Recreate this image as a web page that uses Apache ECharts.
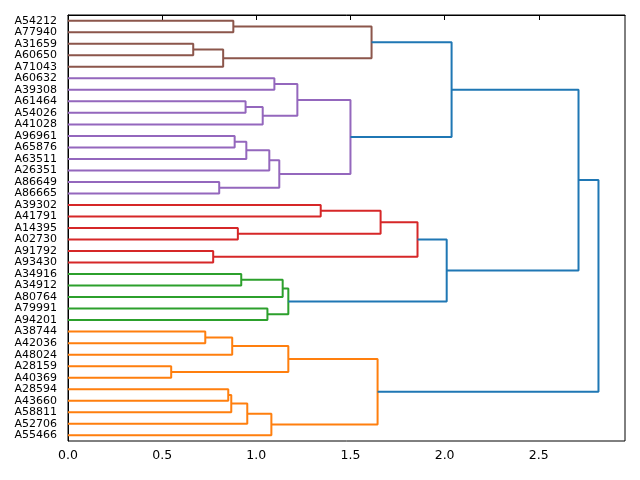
<!DOCTYPE html>
<html>
<head>
<meta charset="utf-8">
<script src="https://cdn.jsdelivr.net/npm/echarts@6/dist/echarts.min.js"></script>
<style>
    html, body { margin: 0; padding: 0; background: #fff; }
    #container-dendro { width: 640px; height: 480px; }
</style>
</head>
<body>
<div id="container-dendro"></div>
<script>
// leaf labels, top to bottom
var leaf_labels = [
    'A54212', 'A77940', 'A31659', 'A60650', 'A71043', 'A60632', 'A39308',
    'A61464', 'A54026', 'A41028', 'A96961', 'A65876', 'A63511', 'A26351',
    'A86649', 'A86665', 'A39302', 'A41791', 'A14395', 'A02730', 'A91792',
    'A93430', 'A34916', 'A34912', 'A80764', 'A79991', 'A94201', 'A38744',
    'A42036', 'A48024', 'A28159', 'A40369', 'A28594', 'A43660', 'A58811',
    'A52706', 'A55466'
]

// linkage: child ids below 37 are leaves, 37 + k is merge k
var merge_left = [
    0, 2, 38, 37, 5, 7, 42, 41, 10, 45, 46, 14, 47, 44, 40,
    16, 18, 52, 20, 54, 22, 57, 25, 58, 56, 51,
    27, 63, 30, 64, 32, 67, 68, 69, 66, 62
]
var merge_right = [
    1, 3, 4, 39, 6, 8, 9, 43, 11, 12, 13, 15, 48, 49, 50,
    17, 19, 53, 21, 55, 23, 24, 26, 59, 60, 61,
    28, 29, 31, 65, 33, 34, 35, 36, 70, 71
]
var merge_height = [
    0.878, 0.665, 0.824, 1.612, 1.096, 0.943, 1.034, 1.218, 0.885, 0.947, 1.069, 0.803, 1.122, 1.500, 2.037,
    1.342, 0.902, 1.660, 0.771, 1.856, 0.920, 1.140, 1.059, 1.170, 2.011, 2.711,
    0.729, 0.872, 0.548, 1.170, 0.851, 0.867, 0.952, 1.080, 1.644, 2.817
]
var merge_group = [
    'C5', 'C5', 'C5', 'C5', 'C4', 'C4', 'C4', 'C4', 'C4', 'C4', 'C4', 'C4', 'C4', 'C4', 'C0',
    'C3', 'C3', 'C3', 'C3', 'C3', 'C2', 'C2', 'C2', 'C2', 'C0', 'C0',
    'C1', 'C1', 'C1', 'C1', 'C1', 'C1', 'C1', 'C1', 'C1', 'C0'
]
var x_ticks = [0, 0.5, 1.0, 1.5, 2.0, 2.5]

var palette = {
    C0: '#1f77b4', C1: '#ff7f0e', C2: '#2ca02c',
    C3: '#d62728', C4: '#9467bd', C5: '#8c564b'
}

function create_dendrogram() {
    var n = leaf_labels.length
    var node_pos = []
    var node_h = []
    for (var i = 0; i < n; i++) {
        node_pos.push(i + 0.5)
        node_h.push(0)
    }
    var series = []
    for (var k = 0; k < merge_height.length; k++) {
        var a = merge_left[k]
        var b = merge_right[k]
        var h = merge_height[k]
        series.push({
            type: 'line',
            xAxisIndex: 0,
            yAxisIndex: 1,
            showSymbol: false,
            silent: true,
            animation: false,
            lineStyle: { color: palette[merge_group[k]], width: 2 },
            data: [
                [node_h[a], node_pos[a]],
                [h, node_pos[a]],
                [h, node_pos[b]],
                [node_h[b], node_pos[b]]
            ]
        })
        node_pos.push((node_pos[a] + node_pos[b]) / 2)
        node_h.push(h)
    }

    var chart = echarts.init(document.getElementById('container-dendro'))
    var options = {
        animation: false,
        textStyle: { fontFamily: 'DejaVu Sans' },
        grid: {
            left: 68, right: 15, top: 15, bottom: 39,
            show: true, borderColor: '#000', borderWidth: 1
        },
        xAxis: {
            type: 'value',
            min: 0,
            max: Math.max.apply(null, merge_height) * 1.05,
            splitLine: { show: false },
            axisLine: { lineStyle: { color: '#000', width: 1 } },
            axisTick: {
                length: 5,
                lineStyle: { color: '#000' },
                customValues: x_ticks
            },
            axisLabel: {
                color: '#000',
                fontSize: 12.5,
                margin: 8,
                customValues: x_ticks,
                formatter: function (v) { return v.toFixed(1) }
            }
        },
        yAxis: [
            {
                type: 'category',
                data: leaf_labels,
                inverse: true,
                boundaryGap: true,
                axisLine: { lineStyle: { color: '#000', width: 1 } },
                axisTick: { show: false },
                splitLine: { show: false },
                axisLabel: { color: '#000', fontSize: 11, margin: 11, interval: 0 }
            },
            {
                type: 'value',
                min: 0,
                max: leaf_labels.length,
                inverse: true,
                show: false,
                splitLine: { show: false }
            }
        ],
        series: series
    }
    chart.setOption(options)
}

create_dendrogram()
</script>
</body>
</html>
